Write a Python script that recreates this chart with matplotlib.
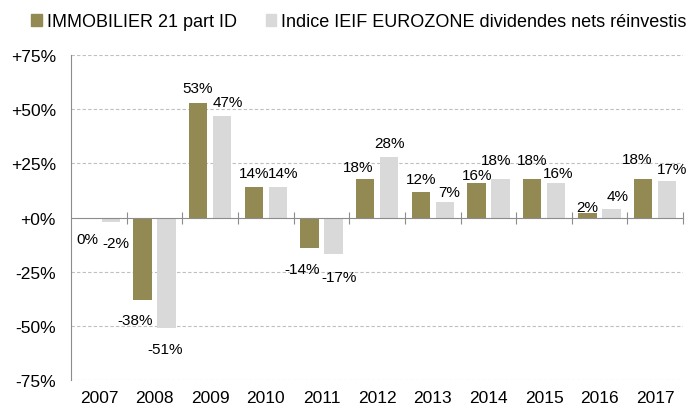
import numpy as np
import matplotlib.pyplot as plt
from matplotlib.patches import Patch
from matplotlib import transforms

plt.rcParams['font.family'] = ['Liberation Sans', 'DejaVu Sans']

years = ['2007', '2008', '2009', '2010', '2011', '2012', '2013', '2014', '2015', '2016', '2017']
immo = [-0.4, -38, 53, 14, -14, 18, 12, 16, 18, 2, 18]
ieif = [-2, -51, 47, 14, -17, 28, 7, 18, 16, 4, 17]
immo_lbl = ['0%', '-38%', '53%', '14%', '-14%', '18%', '12%', '16%', '18%', '2%', '18%']
ieif_lbl = ['-2%', '-51%', '47%', '14%', '-17%', '28%', '7%', '18%', '16%', '4%', '17%']
yticks = [-75, -50, -25, 0, 25, 50, 75]
ytick_lbl = ['-75%', '-50%', '-25%', '+0%', '+25%', '+50%', '+75%']

# placement des étiquettes (pixels) : décalage horizontal et écart à l'extrémité de la barre
immo_nudge = [0, -7, -1, 0, -7, -7, 0, 1, 0, 0, -6]
ieif_nudge = [5, -1, 6, 5, 6, 0, 5, -4, 2, 6, 5]
immo_gap = [14, 13, 11, 10, 14, 8, 9, 4, 15, 2, 16]
ieif_gap = [14, 14, 9.5, 10, 16, 10, 6, 15, 6, 9, 8]

c_immo = '#938953'
c_ieif = '#d9d9d9'

fig = plt.figure(figsize=(6.9, 4.1), dpi=100)
ax = fig.add_axes([0.103, 0.071, 0.887, 0.792])

x = np.arange(len(years))
w = 0.33
off = 0.215
ax.bar(x - off, immo, w, color=c_immo, zorder=3)
ax.bar(x + off, ieif, w, color=c_ieif, zorder=3)

cap = 11  # hauteur des chiffres en pixels
for i in range(len(years)):
    for v, lab, dx, sx, g in ((immo[i], immo_lbl[i], -off, immo_nudge[i], immo_gap[i]),
                              (ieif[i], ieif_lbl[i], off, ieif_nudge[i], ieif_gap[i])):
        sy = g if v >= 0 else -(g + cap)
        ax.annotate(lab, (x[i] + dx, v), xytext=(sx, sy), textcoords='offset pixels',
                    ha='center', va='baseline', fontsize=11)

ax.set_xlim(-0.5, len(years) - 0.5)
ax.set_ylim(-75, 75)
ax.set_yticks(yticks)
ax.set_yticklabels(ytick_lbl, fontsize=12.5)
ax.tick_params(axis='y', length=0, pad=11)
for t in yticks:
    if t != 0:
        ax.axhline(t, color='#bfbfbf', lw=0.8, ls=(0, (3, 2)), zorder=1)

for s in ['top', 'right']:
    ax.spines[s].set_visible(False)
ax.spines['left'].set_color('#8c8c8c')
ax.spines['bottom'].set_position(('data', 0))
ax.spines['bottom'].set_color('#8c8c8c')
ax.spines['bottom'].set_zorder(4)

ax.set_xticks(x + 0.5)
ax.set_xticklabels([])
ax.tick_params(axis='x', direction='inout', length=8, color='#8c8c8c')

trans = transforms.blended_transform_factory(ax.transData, ax.transAxes)
for i, yr in enumerate(years):
    ax.text(x[i], -0.055, yr, transform=trans, ha='center', va='center', fontsize=12.5)

handles = [Patch(color=c_immo, label='IMMOBILIER 21 part ID'),
           Patch(color=c_ieif, label='Indice IEIF EUROZONE dividendes nets réinvestis')]
fig.legend(handles=handles, loc='upper center', bbox_to_anchor=(0.52, 1.005), ncol=2,
           frameon=False, fontsize=13, handlelength=0.6, handleheight=0.6,
           handletextpad=0.25, columnspacing=1.6)

fig.savefig('out.png', dpi=100)
